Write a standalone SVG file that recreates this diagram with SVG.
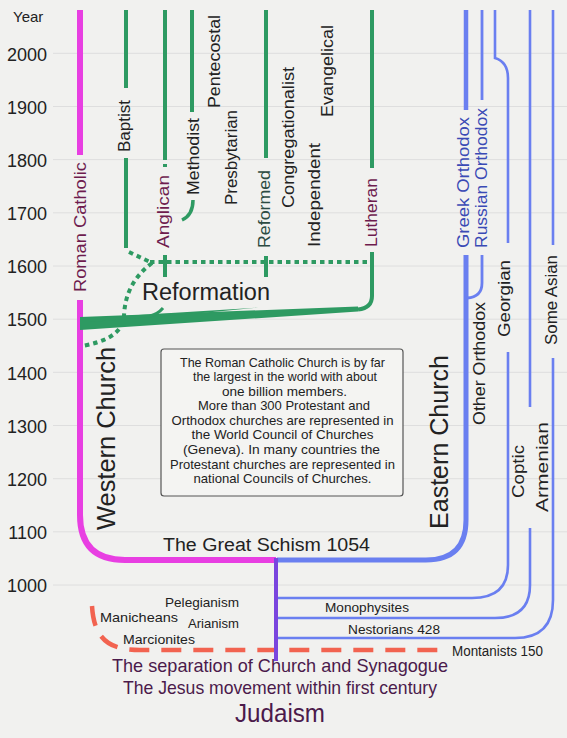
<svg xmlns="http://www.w3.org/2000/svg" width="567" height="738" viewBox="0 0 567 738">
<style>
text{font-family:"Liberation Sans",Arial,sans-serif}
.yr{font-size:18px;fill:#222;text-anchor:end}
.grid{stroke:#dedede;stroke-width:1}
.v{font-size:16px;fill:#222;text-anchor:middle}
.big{font-size:25px}
.mar{fill:#6e1c4e}
.blt{fill:#3a4ab5}
.rf{fill:#2c4a42}
.g{stroke:#2e9a62;stroke-width:4;fill:none}
.gd{stroke:#2e9a62;stroke-width:4;fill:none;stroke-dasharray:4.5 4}
.pk{stroke:#e83fe2;stroke-width:6;fill:none}
.bl{stroke:#6a7ff0;fill:none;stroke-width:2.6}
.red{stroke:#f26350;stroke-width:4.5;fill:none;stroke-dasharray:20 12}
.pu{fill:#4b1a4b}
.sm{font-size:13.5px;fill:#222}
.box{font-size:13px;fill:#222;text-anchor:middle}
</style>
<rect x="0" y="0" width="567" height="738" fill="#f1f1ef"/>
<g id="timeline">
<g class="grid">
<line x1="53" y1="53.3" x2="567" y2="53.3"/>
<line x1="53" y1="106.5" x2="567" y2="106.5"/>
<line x1="53" y1="159.6" x2="567" y2="159.6"/>
<line x1="53" y1="212.8" x2="567" y2="212.8"/>
<line x1="53" y1="266" x2="567" y2="266"/>
<line x1="53" y1="319.2" x2="567" y2="319.2"/>
<line x1="53" y1="372.3" x2="567" y2="372.3"/>
<line x1="53" y1="425.5" x2="567" y2="425.5"/>
<line x1="53" y1="478.7" x2="567" y2="478.7"/>
<line x1="53" y1="531.8" x2="567" y2="531.8"/>
<line x1="53" y1="585" x2="567" y2="585"/>
</g>
<text x="13" y="22" style="font-size:15px;fill:#222">Year</text>
<text class="yr" x="47" y="60.5">2000</text>
<text class="yr" x="47" y="113.7">1900</text>
<text class="yr" x="47" y="166.8">1800</text>
<text class="yr" x="47" y="220">1700</text>
<text class="yr" x="47" y="273.2">1600</text>
<text class="yr" x="47" y="326.4">1500</text>
<text class="yr" x="47" y="379.5">1400</text>
<text class="yr" x="47" y="432.7">1300</text>
<text class="yr" x="47" y="485.9">1200</text>
<text class="yr" x="47" y="539">1100</text>
<text class="yr" x="47" y="592.2">1000</text>
</g>

<g id="connectors">
<path class="red" d="M92,606 C94,640 110,650 140,650 H442"/>
<path class="bl" d="M508,352 V565 Q508,598 472,598 H278"/>
<path class="bl" d="M530,528 V585 Q530,618 495,618 H278"/>
<path class="bl" d="M553,358 V600 Q553,638 515,638 H278"/>
<path class="bl" style="stroke-width:5" d="M466,255 V520 Q466,560 426,560 H277"/>
<path class="bl" style="stroke-width:2.8" d="M482,255 V283 Q482,297 467,298"/>
<path class="pk" d="M80,300 V515 Q80,560 125,560 H276"/>
<path d="M276,558 V661" stroke="#7a45de" stroke-width="4" fill="none"/>
<path class="gd" d="M129,252 L150,262"/>
<path class="gd" d="M150,262 H370"/>
<path class="gd" d="M152,263 C135,276 125,292 124,316 C123,334 104,342 82,346"/>
<polygon fill="#2e9a62" points="80,317 358,306.5 358,311.5 80,330"/>
<polygon fill="#2e9a62" points="90,318 258,307.5 205,312.8 90,322"/>
<path class="g" style="stroke-width:3" d="M150,316 Q158,314 163,308"/>
<path class="g" d="M372,252 V296 Q372,308 358,309.5"/>
<path class="g" style="stroke-width:3.5" d="M193,200 Q193,215 182,220"/>
</g>

<g id="roman-catholic">
<path class="pk" d="M80,10 V155"/>
<text class="v mar" transform="translate(86,227) rotate(-90)" textLength="130" lengthAdjust="spacingAndGlyphs">Roman Catholic</text>
</g>
<g id="western-church">
<text class="v big" transform="translate(115,438.5) rotate(-90)" textLength="183" lengthAdjust="spacingAndGlyphs">Western Church</text>
</g>
<g id="baptist">
<path class="g" d="M126,10 V88 M126,158 V248"/>
<text class="v" transform="translate(130,126) rotate(-90)" textLength="52" lengthAdjust="spacingAndGlyphs">Baptist</text>
</g>
<g id="anglican">
<path class="g" d="M165,10 V160 M165,164 V167 M165,255 V277"/>
<text class="v mar" transform="translate(169,211.5) rotate(-90)" textLength="73" lengthAdjust="spacingAndGlyphs">Anglican</text>
</g>
<g id="methodist">
<path class="g" d="M192,10 V112"/>
<text class="v" transform="translate(199,156.5) rotate(-90)" textLength="77" lengthAdjust="spacingAndGlyphs">Methodist</text>
</g>
<g id="pentecostal">
<text class="v" transform="translate(220,61.5) rotate(-90)" textLength="93" lengthAdjust="spacingAndGlyphs">Pentecostal</text>
</g>
<g id="presbyterian">
<text class="v" transform="translate(237,157.5) rotate(-90)" textLength="95" lengthAdjust="spacingAndGlyphs">Presbytarian</text>
</g>
<g id="reformed">
<path class="g" d="M266,10 V158 M266,256 V277"/>
<text class="v rf" transform="translate(270,209) rotate(-90)" textLength="78" lengthAdjust="spacingAndGlyphs">Reformed</text>
</g>
<g id="congregationalist">
<text class="v" transform="translate(294,137.5) rotate(-90)" textLength="141" lengthAdjust="spacingAndGlyphs">Congregationalist</text>
</g>
<g id="independent">
<text class="v" transform="translate(320,195) rotate(-90)" textLength="104" lengthAdjust="spacingAndGlyphs">Independent</text>
</g>
<g id="evangelical">
<text class="v" transform="translate(333,71) rotate(-90)" textLength="92" lengthAdjust="spacingAndGlyphs">Evangelical</text>
</g>
<g id="lutheran">
<path class="g" d="M372,10 V168"/>
<text class="v mar" transform="translate(377,212.5) rotate(-90)" textLength="69" lengthAdjust="spacingAndGlyphs">Lutheran</text>
</g>
<g id="reformation">
<text x="142" y="300" style="font-size:23px;fill:#222" textLength="128" lengthAdjust="spacingAndGlyphs">Reformation</text>
</g>
<g id="greek-orthodox">
<path class="bl" style="stroke-width:4.5" d="M466,10 V110"/>
<text class="v blt" transform="translate(469,182.5) rotate(-90)" textLength="131" lengthAdjust="spacingAndGlyphs">Greek Orthodox</text>
</g>
<g id="russian-orthodox">
<path class="bl" style="stroke-width:2.8" d="M482,10 V100"/>
<text class="v blt" transform="translate(487,178) rotate(-90)" textLength="140" lengthAdjust="spacingAndGlyphs">Russian Orthodox</text>
</g>
<g id="other-orthodox">
<text class="v" transform="translate(485,363.5) rotate(-90)" textLength="123" lengthAdjust="spacingAndGlyphs">Other Orthodox</text>
</g>
<g id="georgian">
<path class="bl" d="M495,10 V58 Q508,62 508,78 V243"/>
<text class="v" transform="translate(510,298.5) rotate(-90)" textLength="77" lengthAdjust="spacingAndGlyphs">Georgian</text>
</g>
<g id="coptic">
<text class="v" transform="translate(524,471.5) rotate(-90)" textLength="53" lengthAdjust="spacingAndGlyphs">Coptic</text>
</g>
<g id="armenian">
<path class="bl" d="M530,10 V407"/>
<text class="v" transform="translate(548,467) rotate(-90)" textLength="90" lengthAdjust="spacingAndGlyphs">Armenian</text>
</g>
<g id="some-asian">
<path class="bl" d="M553,10 V245"/>
<text class="v" transform="translate(557,300) rotate(-90)" textLength="90" lengthAdjust="spacingAndGlyphs">Some Asian</text>
</g>
<g id="eastern-church">
<text class="v big" transform="translate(448,442) rotate(-90)" textLength="174" lengthAdjust="spacingAndGlyphs">Eastern Church</text>
</g>
<g id="great-schism">
<text x="163" y="551" style="font-size:18px;fill:#222" textLength="207" lengthAdjust="spacingAndGlyphs">The Great Schism 1054</text>
</g>
<g id="info-box">
<rect x="161" y="349" width="242" height="147" rx="3" fill="#f4f4f2" stroke="#555" stroke-width="1.2"/>
<text class="box" x="282.5" y="366.7" textLength="205" lengthAdjust="spacingAndGlyphs">The Roman Catholic Church is by far</text>
<text class="box" x="285" y="381.2" textLength="184" lengthAdjust="spacingAndGlyphs">the largest in the world with about</text>
<text class="box" x="284.5" y="395.8" textLength="125" lengthAdjust="spacingAndGlyphs">one billion members.</text>
<text class="box" x="284" y="410.3" textLength="172" lengthAdjust="spacingAndGlyphs">More than 300 Protestant and</text>
<text class="box" x="282.5" y="424.9" textLength="222" lengthAdjust="spacingAndGlyphs">Orthodox churches are represented in</text>
<text class="box" x="282.5" y="439.4" textLength="182" lengthAdjust="spacingAndGlyphs">the World Council of Churches</text>
<text class="box" x="281.5" y="454" textLength="197" lengthAdjust="spacingAndGlyphs">(Geneva). In many countries the</text>
<text class="box" x="282.5" y="468.5" textLength="225" lengthAdjust="spacingAndGlyphs">Protestant churches are represented in</text>
<text class="box" x="282.5" y="483" textLength="178" lengthAdjust="spacingAndGlyphs">national Councils of Churches.</text>
</g>
<g id="monophysites"><text class="sm" x="325" y="612" textLength="84" lengthAdjust="spacingAndGlyphs">Monophysites</text></g>
<g id="nestorians"><text class="sm" x="348" y="634" textLength="92" lengthAdjust="spacingAndGlyphs">Nestorians 428</text></g>
<g id="montanists"><text class="sm" x="452" y="656" style="font-size:14px" textLength="91" lengthAdjust="spacingAndGlyphs">Montanists 150</text></g>
<g id="pelegianism"><text class="sm" x="165" y="607" textLength="74" lengthAdjust="spacingAndGlyphs">Pelegianism</text></g>
<g id="manicheans"><text class="sm" x="100" y="622" textLength="78" lengthAdjust="spacingAndGlyphs">Manicheans</text></g>
<g id="arianism"><text class="sm" x="188" y="628" textLength="51" lengthAdjust="spacingAndGlyphs">Arianism</text></g>
<g id="marcionites"><text class="sm" x="123" y="644" textLength="72" lengthAdjust="spacingAndGlyphs">Marcionites</text></g>
<g id="separation"><text class="pu" x="112" y="672" style="font-size:19px" textLength="336" lengthAdjust="spacingAndGlyphs">The separation of Church and Synagogue</text></g>
<g id="jesus-movement"><text class="pu" x="123" y="694" style="font-size:19px" textLength="314" lengthAdjust="spacingAndGlyphs">The Jesus movement within first century</text></g>
<g id="judaism"><text class="pu" x="235" y="722" style="font-size:25px" textLength="90" lengthAdjust="spacingAndGlyphs">Judaism</text></g>
</svg>
